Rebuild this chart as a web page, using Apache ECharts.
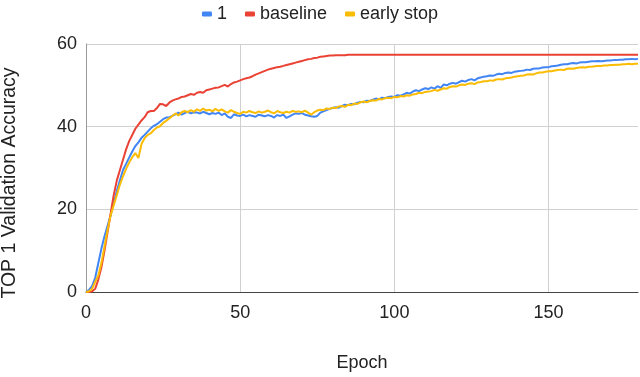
<!DOCTYPE html>
<html>
<head>
<meta charset="utf-8">
<script src="https://cdn.jsdelivr.net/npm/echarts@6/dist/echarts.min.js"></script>
<style>
  html, body { margin: 0; padding: 0; background: #fff; }
  #chart { width: 640px; height: 377px; }
</style>
</head>
<body>
<div id="chart"></div>
<script>
var seriesNames = ['1', 'baseline', 'early stop'];
var seriesColors = ['#4285F4', '#EA4335', '#FBBC04'];

// validation accuracy per epoch, epoch 0..179
var run1 = [
  0, 0.5, 1.5, 3.5, 7, 10.5, 13.5, 16, 18.6, 21.5,
  24.5, 27, 29.5, 31, 32.5, 34, 35.3, 36.2, 37.3, 38,
  38.8, 39.6, 40.2, 40.6, 41.2, 41.8, 42.2, 42.3, 42.6, 43,
  43.4, 42.9, 43.3, 43.6, 43.2, 43.5, 43.4, 43.2, 43.6, 43.3,
  43, 43.3, 43.1, 43.4, 42.8, 43.2, 42.4, 42.1, 43, 42.7,
  42.6, 42.9, 42.5, 42.8, 42.6, 42.4, 42.9, 42.7, 42.5, 42.8,
  42.6, 42.2, 42.8, 42.6, 42.9, 42.1, 42.5, 42.9, 43.2, 43.1,
  43.3, 42.9, 42.7, 42.5, 42.4, 42.6, 43.4, 43.7, 44, 44.3,
  44.5, 44.7, 44.6, 45, 45.3, 45.2, 45.5, 45.4, 45.8, 46,
  45.9, 46.3, 46.2, 46.5, 46.8, 46.6, 47, 46.9, 47.2, 47.3,
  47.2, 47.6, 47.5, 47.8, 48.2, 48, 48.5, 48.8, 48.6, 49,
  49.3, 49.1, 49.5, 49.2, 49.8, 49.4, 50.2, 50, 50.4, 50.6,
  50.4, 50.8, 51.1, 50.9, 51.3, 51.5, 51.2, 51.7, 51.9, 52.1,
  52.2, 52.4, 52.3, 52.6, 52.8, 52.7, 53, 53.1, 53, 53.3,
  53.4, 53.5, 53.6, 53.8, 53.7, 54, 54.1, 54.1, 54.3, 54.4,
  54.4, 54.6, 54.7, 54.8, 55, 55.1, 55.1, 55.3, 55.4, 55.3,
  55.5, 55.6, 55.6, 55.7, 55.8, 55.8, 55.9, 55.8, 55.9, 56,
  56, 56.1, 56.1, 56.2, 56.2, 56.3, 56.3, 56.4, 56.3, 56.4
];

var baseline = [
  0, 0, 0.2, 0.8, 3, 6, 10, 14.5, 19, 23.5,
  27, 29.5, 32, 34.5, 36.5, 38, 39.5, 40.5, 41.5, 42.3,
  43.5, 43.8, 43.8, 44.5, 45.5, 45.4, 45, 45.8, 46.3, 46.6,
  46.8, 47.2, 47.3, 47.6, 47.9, 47.7, 48.2, 48.4, 48.2, 48.8,
  49, 49.2, 49.4, 49.5, 49.8, 50.1, 49.7, 50.3, 50.7, 50.9,
  51.2, 51.5, 51.7, 51.9, 52.2, 52.6, 52.9, 53.2, 53.5, 53.8,
  54, 54.2, 54.4, 54.5, 54.7, 54.9, 55.1, 55.3, 55.5, 55.7,
  55.9, 56.1, 56.3, 56.4, 56.6, 56.7, 56.9, 57, 57.1, 57.2,
  57.2, 57.3, 57.3, 57.3, 57.3, 57.4, 57.4, 57.4, 57.4, 57.4,
  57.4, 57.4, 57.4, 57.4, 57.4, 57.4, 57.4, 57.4, 57.4, 57.4,
  57.4, 57.4, 57.4, 57.4, 57.4, 57.4, 57.4, 57.4, 57.4, 57.4,
  57.4, 57.4, 57.4, 57.4, 57.4, 57.4, 57.4, 57.4, 57.4, 57.4,
  57.4, 57.4, 57.4, 57.4, 57.4, 57.4, 57.4, 57.4, 57.4, 57.4,
  57.4, 57.4, 57.4, 57.4, 57.4, 57.4, 57.4, 57.4, 57.4, 57.4,
  57.4, 57.4, 57.4, 57.4, 57.4, 57.4, 57.4, 57.4, 57.4, 57.4,
  57.4, 57.4, 57.4, 57.4, 57.4, 57.4, 57.4, 57.4, 57.4, 57.4,
  57.4, 57.4, 57.4, 57.4, 57.4, 57.4, 57.4, 57.4, 57.4, 57.4,
  57.4, 57.4, 57.4, 57.4, 57.4, 57.4, 57.4, 57.4, 57.4, 57.4
];

var earlyStop = [
  0, 0.2, 0.8, 2.5, 4, 7, 11, 15, 18.6, 21,
  23.5, 26, 28, 29.8, 31.3, 32.6, 33.6, 32.4, 35.8, 37.2,
  38, 38.4, 39.2, 39.8, 40.1, 40.9, 41.4, 42, 42.6, 43.2,
  42.7, 43.5, 43.8, 43.5, 44, 43.6, 44.2, 43.8, 44.4, 43.9,
  44.1, 43.7, 44.3, 43.8, 44.2, 43.7, 43.4, 44, 43.6, 43.3,
  43.1, 43.6, 43.4, 43.8, 43.5, 43.3, 43.7, 43.4, 43.6, 43.9,
  43.5, 43.2, 43.8, 43.5, 43.3, 43.6, 43.4, 43.8, 43.6, 43.7,
  43.5, 43.9, 43.4, 42.9, 43.5, 43.9, 44.1, 44, 44.4, 44.3,
  44.6, 44.5, 44.9, 45, 44.8, 45.3, 45.2, 45.6, 45.5, 45.9,
  46.1, 45.9, 46.2, 46.4, 46.3, 46.7, 46.6, 46.9, 47, 46.9,
  47.2, 47.1, 47.4, 47.3, 47.6, 47.5, 47.8, 47.9, 48.2, 48.1,
  48.4, 48.5, 48.6, 48.9, 48.7, 49, 49.3, 49.2, 49.6, 49.8,
  49.7, 50, 50.2, 50.1, 50.4, 50.5, 50.3, 50.7, 50.8, 51,
  51, 51.2, 51.1, 51.4, 51.5, 51.4, 51.7, 51.8, 51.9, 52.1,
  52.2, 52.3, 52.4, 52.6, 52.7, 52.6, 52.9, 53.1, 53.1, 53.3,
  53.4, 53.4, 53.6, 53.7, 53.8, 53.7, 54, 54.1, 54, 54.2,
  54.3, 54.4, 54.3, 54.5, 54.5, 54.6, 54.7, 54.7, 54.8, 54.8,
  54.9, 54.9, 55, 55, 55.1, 55.1, 55.2, 55.1, 55.2, 55.2
];

var xTicks = [0, 50, 100, 150];
var yTicks = [0, 20, 40, 60];

var FONT = 'Liberation Sans, Arial, sans-serif';

function toPoints(arr) {
  return arr.map(function (v, i) { return [i, v]; });
}

var allData = [run1, baseline, earlyStop];

var myChart = echarts.init(document.getElementById('chart'));

var option = {
  animation: false,
  color: seriesColors,
  textStyle: { fontFamily: FONT },
  legend: {
    top: 0,
    left: 'center',
    icon: 'roundRect',
    itemWidth: 10,
    itemHeight: 5,
    itemGap: 18,
    textStyle: { fontSize: 18, color: '#222', fontFamily: FONT },
    data: seriesNames
  },
  grid: { left: 86, right: 2, top: 44, bottom: 83 },
  xAxis: {
    type: 'value',
    min: xTicks[0],
    max: run1.length - 1,
    interval: 50,
    name: 'Epoch',
    nameLocation: 'middle',
    nameGap: 62,
    nameTextStyle: { fontSize: 18, color: '#222', fontFamily: FONT },
    axisLine: { show: true, lineStyle: { color: '#444', width: 1 } },
    axisTick: { show: false },
    axisLabel: {
      fontSize: 18, color: '#222', margin: 12, showMaxLabel: false,
      formatter: function (v) { return xTicks.indexOf(v) >= 0 ? String(v) : ''; }
    },
    splitLine: { show: true, showMaxLine: false, lineStyle: { color: '#d0d0d0', width: 1 } }
  },
  yAxis: {
    type: 'value',
    min: yTicks[0],
    max: yTicks[yTicks.length - 1],
    interval: 20,
    axisLine: { show: true, lineStyle: { color: '#999', width: 1 } },
    axisTick: { show: false },
    axisLabel: { fontSize: 18, color: '#222', margin: 9 },
    splitLine: { show: true, lineStyle: { color: '#d0d0d0', width: 1 } }
  },
  graphic: [{
    type: 'text',
    x: 10,
    y: 183,
    rotation: Math.PI / 2,
    style: {
      text: 'TOP 1 Validation Accuracy',
      fontSize: 19.5,
      fontFamily: FONT,
      fill: '#222',
      textAlign: 'center',
      textVerticalAlign: 'middle'
    }
  }],
  series: seriesNames.map(function (name, i) {
    return {
      name: name,
      type: 'line',
      showSymbol: false,
      data: toPoints(allData[i]),
      lineStyle: { width: 2, color: seriesColors[i] },
      itemStyle: { color: seriesColors[i] }
    };
  })
};

myChart.setOption(option);
</script>
</body>
</html>
